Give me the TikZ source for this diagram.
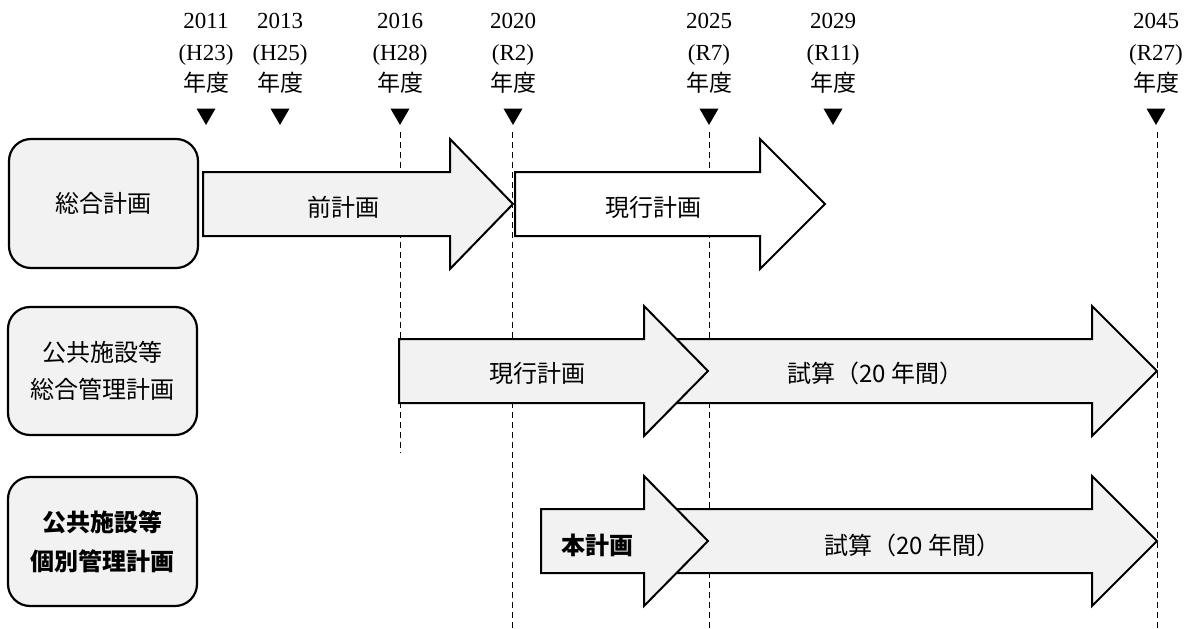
\documentclass[tikz,border=0pt]{standalone}
\usepackage{fontspec}
\setmainfont{Liberation Serif}
\newfontfamily\jp{Noto Sans CJK JP}
\usetikzlibrary{shapes.geometric}
\definecolor{boxgray}{HTML}{F2F2F2}
\tikzset{
  planbox/.style={draw=black, line width=2.2pt, rounded corners=22pt, fill=boxgray, minimum width=189pt, minimum height=129pt, align=center, font=\jp\fontsize{24}{37}\selectfont, inner sep=0pt},
  arrowshape/.style={draw=black, line width=2pt, line join=miter},
  arrowtext/.style={font=\jp\fontsize{24}{28}\selectfont, inner sep=0pt},
  yrtext/.style={font=\fontsize{23}{28}\selectfont, anchor=base, inner sep=0pt},
  tri/.style={regular polygon, regular polygon sides=3, shape border rotate=180, fill=black, minimum size=22pt, inner sep=0pt},
  dashline/.style={line width=0.9pt, dash pattern=on 6pt off 4pt},
}
\newcommand{\planarrow}[5][boxgray]{%
  \filldraw[arrowshape, fill=#1] (#2,#5-32) -- (#3,#5-32) -- (#3,#5-65) -- (#4,#5) -- (#3,#5+65) -- (#3,#5+32) -- (#2,#5+32) -- cycle;}
\newcommand{\yearmark}[4]{%
  \node[yrtext] (yr#1) at (#2,28) {#3};
  \node[yrtext] (era#1) at (#2,60) {#4};
  \node[yrtext, font=\jp\fontsize{23}{28}\selectfont] (nd#1) at (#2,91) {年度};
  \node[tri] (tri#1) at (#2,114) {};}
\begin{document}
\begin{tikzpicture}[x=1pt,y=-1pt]
\useasboundingbox (0,0) rectangle (1189,629);

% year marks
\yearmark{2011}{206}{2011}{(H23)}
\yearmark{2013}{280}{2013}{(H25)}
\yearmark{2016}{400}{2016}{(H28)}
\yearmark{2020}{513}{2020}{(R2)}
\yearmark{2025}{709}{2025}{(R7)}
\yearmark{2029}{833}{2029}{(R11)}
\yearmark{2045}{1156}{2045}{(R27)}

% dashed guide lines
\coordinate (d2016a) at (400,132); \coordinate (d2016b) at (400,453);
\coordinate (d2020a) at (512,132); \coordinate (d2020b) at (512,629);
\coordinate (d2025a) at (709,132); \coordinate (d2025b) at (709,629);
\coordinate (d2045a) at (1157,132); \coordinate (d2045b) at (1157,629);
\draw[dashline] (d2016a) -- (d2016b);
\draw[dashline] (d2020a) -- (d2020b);
\draw[dashline] (d2025a) -- (d2025b);
\draw[dashline] (d2045a) -- (d2045b);

% left boxes
\node[planbox] (sogo) at (103.5,203.5) {総合計画};
\node[planbox, minimum height=128pt] (kokyo) at (102.5,371) {公共施設等\\総合管理計画};
\node[planbox, font=\jp\bfseries\fontsize{24}{39}\selectfont] (kobetsu) at (102.5,541.5) {公共施設等\\個別管理計画};

% row 1
\planarrow{203}{450}{513}{204}
\planarrow[white]{515}{760}{825}{204}
\node[arrowtext] (mae) at (343,207) {前計画};
\node[arrowtext] (genko1) at (653,207) {現行計画};

% row 2
\planarrow{650}{1092}{1157}{371}
\planarrow{399}{644}{708}{371}
\node[arrowtext] (genko2) at (537,373) {現行計画};
\node[arrowtext] (shisan2) at (875,373) {試算（20 年間）};

% row 3
\planarrow{650}{1092}{1157}{541}
\planarrow{541}{644}{708}{541}
\node[arrowtext, font=\jp\bfseries\fontsize{24}{28}\selectfont] (hon) at (597,545) {本計画};
\node[arrowtext] (shisan3) at (912,545) {試算（20 年間）};
\end{tikzpicture}
\end{document}
